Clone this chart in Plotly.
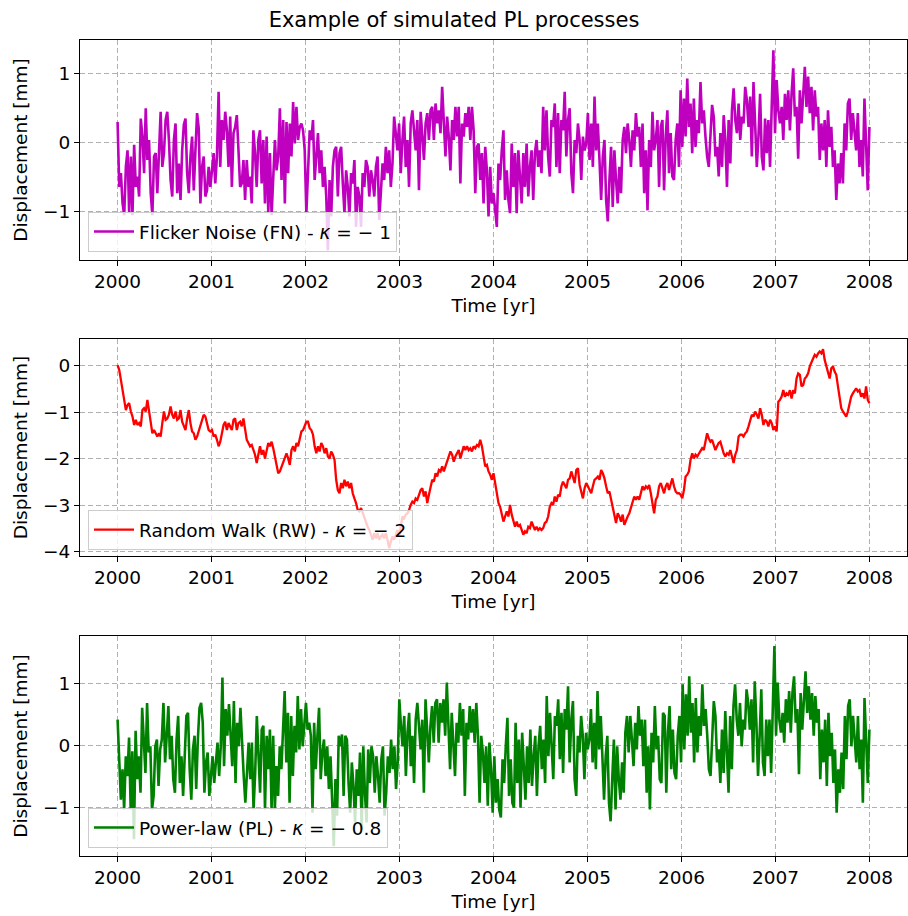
import numpy as np
import plotly.graph_objects as go
from plotly.subplots import make_subplots

# ---------------- data ----------------
t_start, t_end = 2000.0, 2008.0

fn_values = [
    0.30, -0.64, -0.44, -0.88, -1.05, -0.35, -0.11, -1.02, -0.20, -1.05, -0.03, -0.64, -0.49, -0.78, 0.35, 0.09,
    -0.44, 0.50, -0.25, 0.04, -0.73, -1.05, -0.20, -0.15, -0.73, -0.15, 0.45, -0.35, -0.15, 0.33, 0.45, 0.04,
    -0.54, -0.78, 0.04, 0.28, -0.73, -0.30, -0.83, -0.11, 0.26, 0.35, -0.44, -0.73, -0.20, 0.09, -0.69, -0.11,
    0.43, 0.21, -0.88, -0.35, -0.20, -0.78, -0.69, -0.35, -0.64, -0.40, -0.15, -0.59, -0.20, 0.74, -0.35, 0.33,
    0.04, 0.45, 0.18, -0.35, 0.38, -0.64, 0.14, 0.23, 0.40, -0.11, -0.64, -0.59, -0.25, -0.83, -0.25, -0.64,
    -0.49, -0.88, 0.18, -0.15, -0.64, 0.04, 0.18, -0.59, 0.04, -0.88, 0.09, -1.02, -0.15, -1.05, -0.35, 0.04,
    -0.40, -0.20, 0.50, -0.54, 0.33, -0.88, 0.30, -0.44, 0.28, -0.20, 0.59, -0.01, 0.52, 0.04,
    0.23, 0.28, 0.18, -0.11, -1.02, -0.35, 0.18, 0.04, 0.33, -0.54, -0.11, 0.14, -0.44, -0.11, -0.64, -0.35,
    -0.78, -1.56, -0.54, -1.07, -0.35, -0.11, -0.06, -0.78, -0.15, -0.06, -0.59, -1.02, -0.40, -0.64, -1.07, -0.44,
    -0.59, -0.25, -1.22, -0.64, -0.78, -1.22, -0.44, -0.64, -0.25, -0.35, -0.78, -0.40, -0.54, -0.78, -0.35, -0.20,
    -1.12, -0.73, -0.30, -0.54, -0.06, -0.44, -0.11, -0.64, -0.30, 0.38, 0.14, -0.11, 0.28, -0.44, 0.04, 0.38,
    -0.35, 0.04, -0.64, 0.28, 0.47, 0.23, -0.11, 0.33, -0.69, 0.45, 0.09, -0.25, 0.28, 0.43, 0.04, 0.47,
    0.52, 0.04, 0.57, 0.28, 0.47, 0.14, 0.81, 0.28, -0.20, 0.38, 0.09, -0.40, 0.33, 0.04, 0.52, 0.09,
    0.52, -0.59, 0.28, 0.09, 0.43, 0.23, 0.52, 0.04, 0.52, 0.18, -0.73, -0.06, -0.01, -0.54, -0.15, -0.88, -0.06,
    -0.40, -1.07, -0.35, -0.88, -0.73, -1.02, -1.22, -0.30, -0.54, -0.11, 0.18, -0.83, -0.40, -0.83, -1.02, -0.01,
    -0.64, -0.15, -1.02, -0.11, -0.44, -0.88, -0.15, -0.64, -0.01, -0.78, -0.35, -0.11, -0.83, -0.15, 0.04, -0.35,
    -0.11, -0.44, 0.52, -0.11, 0.47, -0.20, -0.49, 0.33, 0.23, 0.57, -0.35, 0.43, -0.44, 0.33, 0.18, 0.74,
    -0.20, 0.33, 0.50, -0.44, -0.73, 0.04, -0.15, 0.28, 0.04, -0.54, 0.09, -0.11, -0.01, 0.43, -0.25, 0.28,
    -0.35, 0.67, -0.11, 0.28, -0.25, -0.83, -0.20, 0.04, -0.83, -1.14, -0.54, -0.06, -0.93, -0.11, -0.54, -0.88,
    -0.35, -0.73, 0.04, 0.23, -0.15, 0.28, 0.04, -0.35, 0.18, -0.11, 0.43, 0.09, 0.23, -0.35, 0.28, -0.73,
    -0.11, -0.98, 0.04, -0.35, 0.45, -0.11, 0.04, 0.33, -0.64, 0.23, 0.33, -0.69, 0.09, 0.47, -0.44, 0.14, -0.49,
    -0.54, 0.04, 0.28, -0.35, 0.76, -0.06, 0.64, 0.09, 0.93, 0.23, 0.57, -0.15, 0.64, -0.06, 0.33, 0.14,
    0.88, 0.28, 0.47, 0.09, -0.20, -0.35, 0.23, 0.55, 0.38, -0.20, -0.06, -0.49, 0.14, -0.35, 0.40, 0.04,
    -0.64, 0.33, -0.30, 0.47, 0.79, 0.33, 0.14, 0.57, 0.04, 0.38, 0.28, 0.81, 0.62, 0.23, 0.67, -0.20,
    0.88, 0.28, -0.35, 0.09, 0.71, -0.20, -0.40, 0.35, -0.15, 0.33, -0.35, 0.52, 1.34, 0.14, 0.91, 0.47,
    0.28, 0.52, 0.04, 0.71, 0.33, 0.76, 0.18, 0.71, 1.08, 0.38, 0.52, -0.23, 0.76, 0.28, 0.62, 1.10,
    0.52, 0.96, 0.43, 0.81, 0.18, 0.76, 0.38, 0.52, -0.25, 0.28, -0.11, 0.33, -0.35, 0.47, -0.06, 0.23,
    -0.35, -0.11, -0.83, -0.30, -0.59, -0.15, -0.59, 0.28, -0.11, 0.57, 0.64, 0.04, 0.43, 0.18, -0.11, 0.43,
    -0.35, 0.04, -0.49, 0.64, 0.04, -0.69, 0.23,
]

rw_values = [
    0.02, -0.09, -0.30, -0.52, -0.70, -0.95, -0.84, -0.80, -0.98, -1.09, -1.27, -1.16, -1.27, -1.23, -1.30, -0.95,
    -0.91, -0.98, -0.73, -0.98, -1.16, -1.45, -1.38, -1.45, -1.52, -1.45, -1.52, -1.23, -0.98, -1.16, -1.13, -1.05,
    -0.87, -1.05, -1.13, -0.98, -1.16, -1.13, -0.95, -1.20, -1.30, -1.38, -1.13, -0.95, -1.23, -1.41, -1.45, -1.59,
    -1.52, -1.41, -1.30, -1.16, -1.05, -1.09, -1.23, -1.38, -1.41, -1.38, -1.52, -1.48, -1.59, -1.73, -1.63, -1.48,
    -1.27, -1.20, -1.38, -1.23, -1.30, -1.38, -1.16, -1.13, -1.38, -1.23, -1.20, -1.30, -1.13, -1.34, -1.59, -1.66,
    -1.73, -1.70, -1.81, -1.91, -2.09, -1.88, -1.73, -1.91, -1.81, -1.99, -1.81, -1.66, -1.73, -1.63, -1.77, -1.95,
    -2.13, -2.31, -2.27, -2.16, -2.06, -1.95, -1.88, -1.99, -2.13, -1.81, -1.73, -1.84, -1.66, -1.73, -1.59, -1.41,
    -1.38, -1.27, -1.20,
    -1.20, -1.34, -1.38, -1.48, -1.73, -1.88, -1.73, -1.84, -1.66, -1.73, -1.88, -1.77, -1.95, -1.99, -1.84, -1.91,
    -2.02, -2.45, -2.67, -2.74, -2.52, -2.63, -2.45, -2.59, -2.49, -2.63, -2.52, -2.74, -2.85, -2.95, -3.10, -3.13,
    -3.06, -3.17, -3.24, -3.35, -3.46, -3.53, -3.63, -3.74, -3.60, -3.71, -3.60, -3.74, -3.67, -3.63, -3.71, -3.60,
    -3.74, -3.92, -3.78, -3.67, -3.74, -3.63, -3.53, -3.67, -3.42, -3.24, -3.28, -3.20, -3.17, -3.10, -2.99, -2.92,
    -2.95, -2.85, -2.88, -2.77, -2.67, -2.63, -2.81, -2.70, -2.95, -2.77, -2.59, -2.45, -2.49, -2.31, -2.38, -2.24,
    -2.27, -2.16, -2.27, -2.16, -2.09, -1.99, -1.84, -1.91, -2.06, -1.95, -1.88, -1.81, -1.99, -1.88, -1.73, -1.81,
    -1.73, -1.81, -1.77, -1.84, -1.73, -1.77, -1.70, -1.73, -1.59, -1.73, -1.99, -2.16, -2.13, -2.27, -2.34, -2.45,
    -2.31, -2.52, -2.81, -2.95, -3.03, -3.17, -3.35, -3.24, -3.13, -3.24, -2.99, -3.20, -3.31, -3.46, -3.35, -3.46,
    -3.42, -3.53, -3.63, -3.56, -3.60, -3.46, -3.49, -3.35, -3.46, -3.53, -3.46, -3.53, -3.49, -3.53, -3.49, -3.38,
    -3.35, -3.24, -3.03, -2.95, -2.99, -2.81, -2.92, -2.77, -2.81, -2.59, -2.49, -2.56, -2.63, -2.45, -2.42, -2.27,
    -2.38, -2.52, -2.24, -2.20, -2.56, -2.74, -2.85, -2.63, -2.52, -2.59, -2.67, -2.74, -2.59, -2.45, -2.42, -2.38,
    -2.45, -2.24, -2.31, -2.42, -2.59, -2.74, -2.70, -2.88, -3.06, -3.24, -3.38, -3.17, -3.24, -3.35, -3.20, -3.42,
    -3.31, -3.24, -3.17, -3.06, -2.95, -2.81, -2.88, -2.81, -2.88, -2.74, -2.59, -2.67, -2.59, -2.63, -2.56, -2.74,
    -2.92, -3.17, -2.88, -2.81, -2.59, -2.52, -2.63, -2.74, -2.59, -2.52, -2.67, -2.52, -2.42, -2.59, -2.70, -2.74,
    -2.74, -2.77, -2.85, -2.67, -2.38, -2.34, -2.27, -2.02, -1.88, -1.99, -1.91, -1.95, -1.88, -1.81, -1.77, -1.81,
    -1.66, -1.45, -1.56, -1.63, -1.59, -1.73, -1.81, -1.73, -1.66, -1.63, -1.77, -1.88, -1.95, -1.88, -1.91, -1.81,
    -1.95, -2.09, -1.91, -1.81, -1.52, -1.48, -1.48, -1.52, -1.45, -1.41, -1.30, -1.16, -1.05, -1.09, -0.98, -1.05,
    -1.13, -0.91, -1.05, -1.27, -1.16, -1.20, -1.30, -1.16, -1.23, -1.38, -1.30, -1.41, -0.77, -0.73, -0.66, -0.52,
    -0.66, -0.59, -0.62, -0.52, -0.70, -0.52, -0.59, -0.27, -0.16, -0.19, -0.44, -0.41, -0.27, -0.23, -0.16, -0.01,
    0.09, 0.16, 0.24, 0.20, 0.27, 0.31, 0.27, 0.36, 0.13, -0.01, -0.12, -0.27, -0.05, -0.01, -0.12, -0.19,
    -0.44, -0.73, -0.91, -0.98, -1.05, -1.09, -0.98, -0.84, -0.66, -0.59, -0.52, -0.48, -0.55, -0.52, -0.66, -0.59,
    -0.70, -0.44, -0.73, -0.80,
]

pl_values = [
    0.42, -0.27, -0.87, -0.38, -1.03, -0.17, -0.49, 0.13, -1.03, -0.09, -1.51, 0.24, -0.54, -0.17, -0.76, 0.61,
    0.05, -0.44, 0.69, -0.11, -0.01, -1.03, -0.81, -0.01, 0.10, -0.65, -0.06, 0.10, 0.69, -0.27, 0.16, 0.64,
    -0.22, 0.16, -0.54, -0.76, 0.10, 0.48, -0.60, -0.17, -0.81, -0.01, 0.48, 0.53, -0.38, -0.87, -0.06, 0.16,
    -0.70, 0.10, 0.61, 0.69, 0.37, -0.76, -0.27, -0.11, -0.81, -0.49, -0.17, -0.60, -0.27, 0.05, -0.49, -0.01,
    1.10, -0.33, 0.59, 0.16, 0.67, 0.26, -0.33, 0.72, -0.60, 0.37, -0.01, 0.61, -0.01, -0.49, -0.92, -0.38,
    0.05, -0.54, 0.05, -1.03, -0.44, 0.48, -0.11, -0.76, 0.26, 0.32, -1.03, 0.16, -0.38, 0.26, -1.03, 0.16,
    -1.03, -0.33, -0.81, -0.01, -0.38, 0.42, 0.88, -0.27, 0.53, -0.92, 0.48, -0.49, 0.32, -0.11, 0.80, -0.06,
    0.59, -0.01, 0.42,
    0.69, 0.26, 0.37, 0.16, -1.08, 0.37, -0.38, 0.16, 0.61, -0.54, -0.11, 0.10, -0.49, -0.01, -0.70, -0.17,
    -0.92, -1.62, -0.54, -1.13, 0.16, -0.01, 0.18, -0.81, 0.16, 0.10, -0.60, -1.08, -0.27, -0.65, -1.24, -0.38,
    -0.81, -0.11, -1.35, -0.01, -0.76, -1.24, -0.06, -0.60, -0.01, -0.17, -0.76, -0.17, -0.49, -0.92, -0.22, -0.01,
    -1.13, -0.76, -0.17, -0.44, 0.10, -0.38, -0.01, -0.70, -0.27, 0.75, 0.32, -0.01, 0.48, -0.49, 0.21, 0.53,
    -0.33, 0.16, -0.60, 0.42, 0.69, 0.26, -0.06, 0.42, -0.76, 0.75, 0.16, -0.27, 0.32, 0.64, 0.05, 0.69,
    0.75, 0.05, 0.69, 0.37, 0.75, 0.16, 1.02, 0.37, -0.38, 0.53, 0.05, -0.49, 0.37, 0.05, 0.69, 0.16,
    0.59, -0.81, 0.37, 0.10, 0.64, 0.21, 0.59, 0.05, 0.69, 0.16, -0.92, 0.16, -0.11, -0.60, -0.01, -0.97, 0.05,
    -0.38, -1.08, -0.17, -0.92, -0.54, -1.03, -1.16, -0.22, -0.60, -0.01, 0.45, -0.81, -0.22, -0.92, -1.00, 0.37,
    -0.60, 0.10, -1.00, 0.21, -0.38, -0.87, -0.01, -0.60, 0.26, -0.65, -0.17, 0.16, -0.81, -0.01, 0.32, -0.38,
    0.10, -0.60, 0.80, -0.17, 0.53, -0.11, -0.54, 0.48, 0.32, 0.75, -0.22, 0.53, -0.44, 0.59, 0.26, 0.96,
    -0.27, 0.42, 0.72, -0.54, -0.81, 0.16, -0.11, 0.48, 0.16, -0.54, 0.21, -0.06, 0.10, 0.59, -0.27, 0.37,
    -0.38, 0.88, -0.06, 0.48, -0.22, -0.87, -0.17, 0.16, -0.92, -1.22, -0.54, 0.10, -1.03, -0.01, -0.54, -0.87,
    -0.27, -0.76, 0.21, 0.48, -0.11, 0.48, 0.10, -0.33, 0.37, -0.06, 0.64, 0.16, 0.42, -0.33, 0.42, -0.76,
    -0.01, -1.03, 0.21, -0.27, 0.64, -0.06, 0.16, -0.54, -0.60, 0.53, 0.48, -0.76, 0.21, 0.64, -0.38, 0.26, -0.44,
    -0.54, 0.16, 0.48, -0.27, 0.99, -0.06, 0.83, 0.16, 1.12, 0.21, 0.69, -0.27, 0.77, -0.11, 0.48, 0.16,
    0.99, 0.32, 0.59, 0.16, -0.38, -0.49, 0.21, 0.72, 0.48, -0.27, -0.06, -0.60, 0.26, -0.44, 0.56, -0.01,
    -0.76, 0.48, -0.38, 0.64, 0.99, 0.42, 0.16, 0.69, -0.01, 0.42, 0.26, 0.91, 0.69, 0.26, 0.75, -0.27,
    1.04, 0.37, -0.49, 0.16, 0.91, -0.27, -0.49, 0.42, -0.17, 0.42, -0.44, 0.59, 1.61, 0.16, 1.02, 0.42,
    0.21, 0.53, 0.05, 0.75, 0.37, 0.88, 0.21, 0.85, 1.12, 0.37, 0.59, -0.46, 0.85, 0.26, 0.69, 1.20,
    0.53, 0.96, 0.42, 0.85, 0.16, 0.80, 0.37, 0.59, -0.54, 0.26, -0.27, 0.42, -0.65, 0.53, -0.17, 0.21,
    -0.60, -0.06, -1.08, -0.38, -0.76, -0.11, -0.70, 0.48, -0.22, 0.64, 0.75, -0.01, 0.48, 0.16, -0.27, 0.48,
    -0.38, 0.10, -0.92, 0.77, -0.06, -0.60, 0.26,
]

series = [
    ("Flicker Noise (FN) - <i>κ</i> = − 1", fn_values, "#bf00bf", 2.6),
    ("Random Walk (RW) - <i>κ</i> = − 2", rw_values, "#ff0000", 2.3),
    ("Power-law (PL) - <i>κ</i> = − 0.8", pl_values, "#008000", 2.6),
]
y_ranges = [[-1.70, 1.49], [-4.09, 0.58], [-1.78, 1.77]]
y_ticks = [[-1, 0, 1], [-4, -3, -2, -1, 0], [-1, 0, 1]]
x_ticks = list(range(2000, 2009))

# ---------------- figure ----------------
W, H = 908, 916
ML, MR, MT, MB = 80, 1, 40, 60
PW, PH = W - ML - MR, H - MT - MB

fig = make_subplots(rows=3, cols=1)

def ydom(top_px, bot_px):
    return [(H - MB - bot_px) / PH, (H - MB - top_px) / PH]

y_doms = [ydom(40, 260), ydom(339, 556), ydom(636, 856)]
legend_bottoms = [252, 550, 848]
legend_names = ["legend", "legend2", "legend3"]

font_family = "DejaVu Sans, Verdana, sans-serif"
FS = 18.5

for i, (name, vals, color, lw) in enumerate(series):
    t = np.linspace(t_start, t_end, len(vals))
    fig.add_trace(
        go.Scatter(
            x=t, y=vals, mode="lines", name=name,
            line=dict(color=color, width=lw),
            legend=legend_names[i], showlegend=True,
        ),
        row=i + 1, col=1,
    )
    ax = "" if i == 0 else str(i + 1)
    fig.update_layout({
        f"xaxis{ax}": dict(
            domain=[0, 1], range=[1999.6, 2008.4], tickvals=x_ticks,
            showline=True, mirror=True, linecolor="black", linewidth=1,
            ticks="outside", ticklen=5, tickcolor="black",
            showgrid=True, gridcolor="#b0b0b0", griddash="5px,3px", gridwidth=1,
            zeroline=False, tickfont=dict(size=FS, color="black"), automargin=False,
            title=dict(text="Time [yr]", font=dict(size=FS, color="black"), standoff=7),
        ),
        f"yaxis{ax}": dict(
            domain=y_doms[i], range=y_ranges[i], tickvals=y_ticks[i],
            showline=True, mirror=True, linecolor="black", linewidth=1,
            ticks="outside", ticklen=5, tickcolor="black",
            showgrid=True, gridcolor="#b0b0b0", griddash="5px,3px", gridwidth=1,
            zeroline=False, tickfont=dict(size=FS, color="black"), automargin=False,
            title=dict(text="Displacement [mm]", font=dict(size=FS, color="black"), standoff=10),
        ),
        legend_names[i]: dict(
            x=(88 - ML) / PW, y=(H - MB - legend_bottoms[i]) / PH,
            xanchor="left", yanchor="bottom",
            bgcolor="rgba(255,255,255,0.8)", bordercolor="#cccccc", borderwidth=1,
            font=dict(size=FS, color="black", family=font_family),
            itemwidth=40, tracegroupgap=0,
        ),
    })

fig.update_layout(
    width=W, height=H,
    margin=dict(l=ML, r=MR, t=MT, b=MB),
    paper_bgcolor="white", plot_bgcolor="white",
    font=dict(family=font_family, size=FS, color="black"),
    title=dict(text="Example of simulated PL processes", x=0.5, xref="container", xanchor="center",
               y=1 - 20 / H, yref="container", yanchor="middle",
               font=dict(size=21, color="black")),
)

fig.write_html(
    "out.html",
    config={"displayModeBar": False},
    post_script="document.body.style.margin='0';document.body.style.overflow='hidden';",
)
